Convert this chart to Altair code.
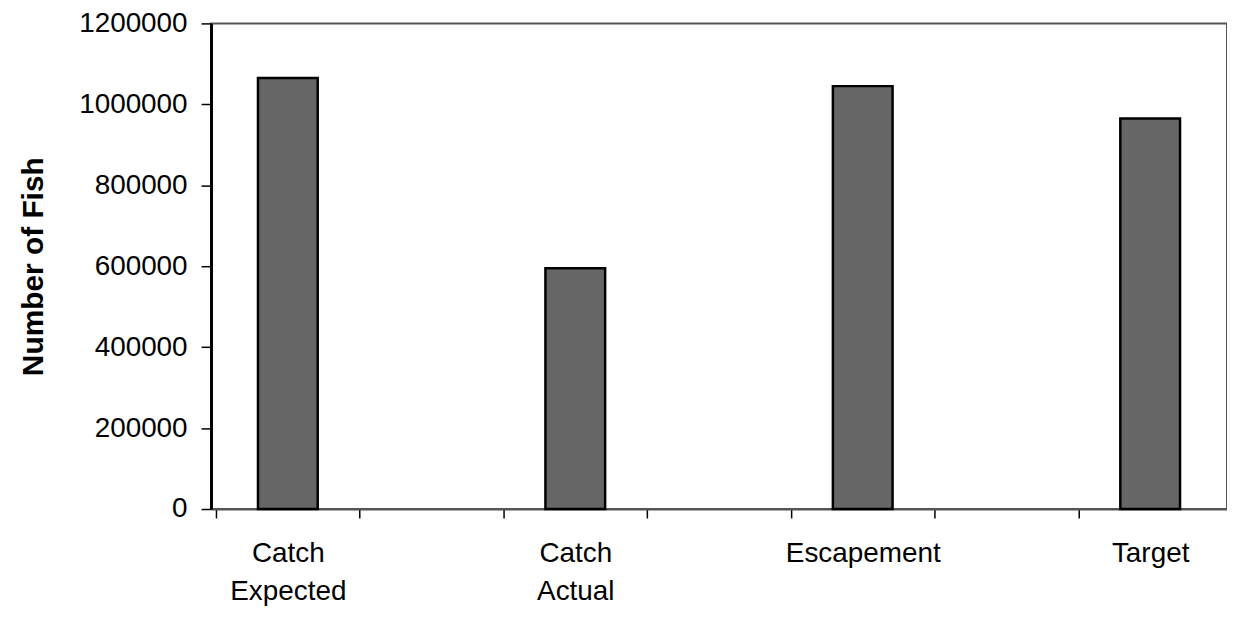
import altair as alt
import pandas as pd

categories = ["Catch\nExpected", "Catch\nActual", "Escapement", "Target"]
fish_counts = [1065000, 595000, 1045000, 965000]
y_ticks = [0, 200000, 400000, 600000, 800000, 1000000, 1200000]
x_tick_marks = [-0.25, 0.25, 0.75, 1.25, 1.75, 2.25, 2.75]

df = pd.DataFrame({
    "pos": list(range(len(categories))),
    "label": categories,
    "count": fish_counts,
})

# label expression built from the category list
parts = []
for i, c in enumerate(categories):
    lines = c.split("\n")
    if len(lines) > 1:
        txt = "[" + ",".join("'" + l + "'" for l in lines) + "]"
    else:
        txt = "'" + lines[0] + "'"
    parts.append(f"datum.value === {i} ? {txt} : ")
label_expr = "".join(parts) + "''"

axis_values = sorted(x_tick_marks + list(range(len(categories))))

FONT = "Liberation Sans"

chart = alt.Chart(df).mark_bar(
    size=60, color="#666666", stroke="#000000", strokeWidth=2.5
).encode(
    x=alt.X(
        "pos:Q",
        scale=alt.Scale(domain=[-0.25, 3.25], nice=False, zero=False),
        axis=alt.Axis(
            values=axis_values,
            labelExpr=label_expr,
            title=None,
            grid=False,
            tickSize=9,
            tickColor="#000000",
            tickWidth=1.5,
            tickOpacity={"condition": {"test": "datum.value % 1 === 0", "value": 0}, "value": 1},
            labelFont=FONT,
            labelFontSize=28,
            labelColor="#000000",
            labelPadding=22,
            labelLineHeight=38,
            labelFlush=False,
            labelOverlap=False,
            domainColor="#555555",
            domainWidth=2,
        ),
    ),
    y=alt.Y(
        "count:Q",
        scale=alt.Scale(domain=[0, 1200000], nice=False),
        axis=alt.Axis(
            values=y_ticks,
            format="d",
            title="Number of Fish",
            titleFont=FONT,
            titleFontSize=30,
            titleFontWeight="bold",
            titleColor="#000000",
            titlePadding=30,
            grid=False,
            tickSize=10,
            tickColor="#000000",
            tickWidth=1.5,
            labelFont=FONT,
            labelFontSize=28,
            labelColor="#000000",
            labelPadding=14,
            domainColor="#000000",
            domainWidth=3,
        ),
    ),
).properties(
    width=1021,
    height=488,
    autosize=alt.AutoSizeParams(type="none"),
    padding={"left": 204, "top": 14, "right": 0, "bottom": 100},
    background="#ffffff",
).configure_view(
    stroke="#555555",
    strokeWidth=2,
)

chart.save("out.html", embed_options={"renderer": "svg", "actions": False})
